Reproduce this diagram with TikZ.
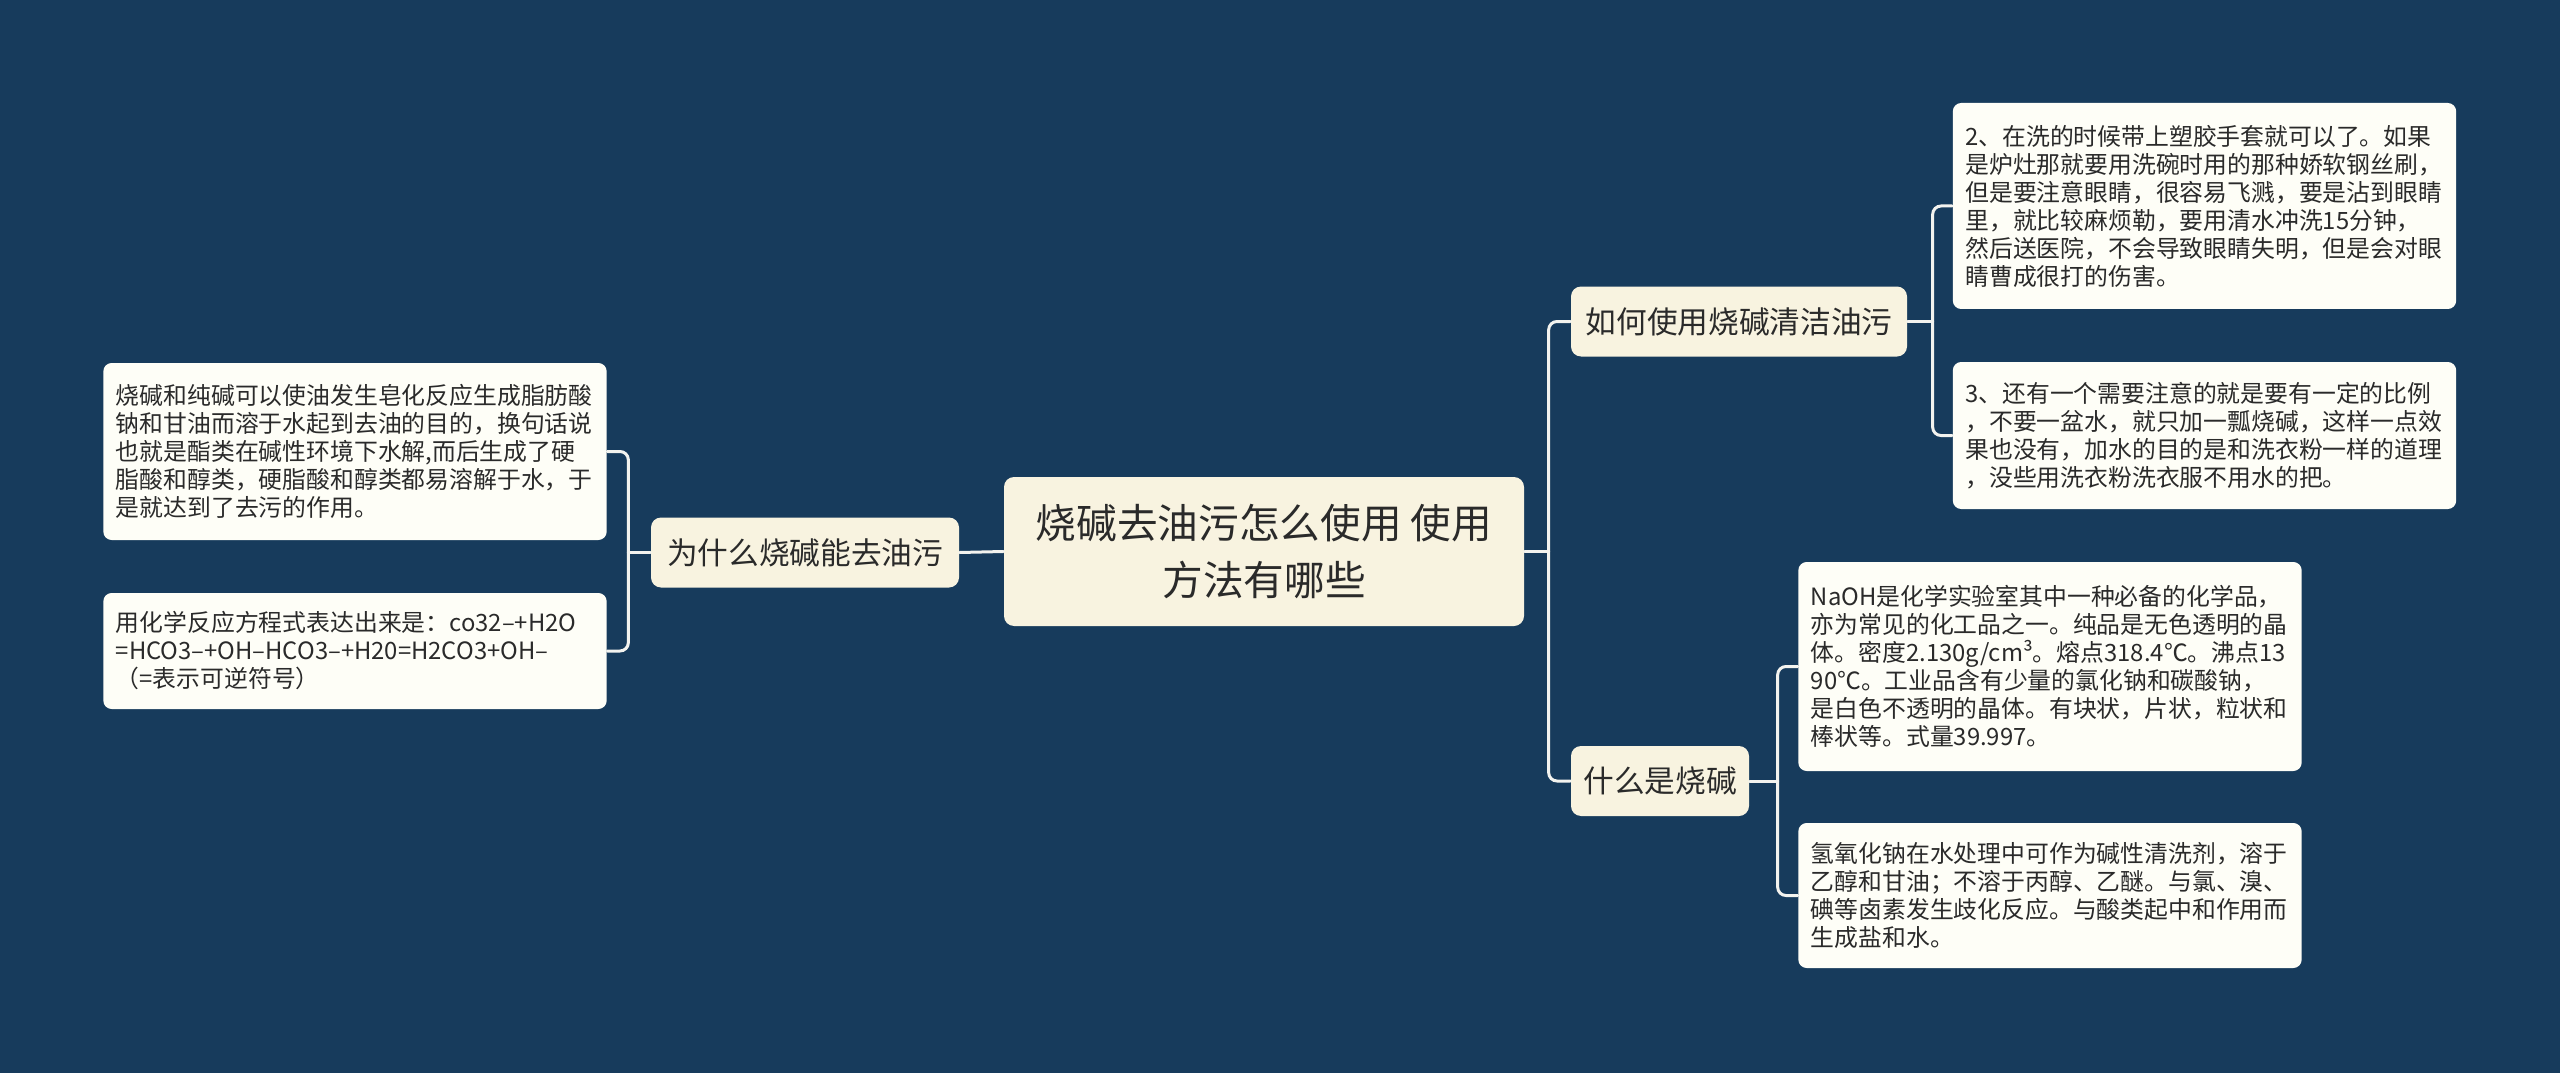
\documentclass[tikz,border=0pt]{standalone}
\usepackage{fontspec}
\newfontfamily\cjk{Noto Sans CJK SC}
\definecolor{bgnavy}{HTML}{173B5C}
\definecolor{topiccream}{HTML}{F8F3E0}
\definecolor{notewhite}{HTML}{FEFEF7}
\definecolor{inkgrey}{HTML}{2A2A2A}
\definecolor{linkwhite}{HTML}{F3F3EF}
\tikzset{
  rootbox/.style={fill=topiccream, rounded corners=3pt, text=inkgrey, align=center, inner sep=0pt,
    font=\cjk\fontsize{12.2}{17}\selectfont},
  topicbox/.style={fill=topiccream, rounded corners=3pt, text=inkgrey, inner sep=0pt,
    minimum height=21pt, font=\cjk\fontsize{9.2}{11}\selectfont},
  notebox/.style={fill=notewhite, rounded corners=2.5pt, text=inkgrey, align=left, inner sep=0pt,
    text width=143.5pt, minimum width=151pt, font=\cjk\fontsize{7.15}{8.4}\selectfont},
  link/.style={draw=linkwhite, line width=0.9pt, line cap=round, rounded corners=2.5pt},
}
\begin{document}
\begin{tikzpicture}[x=0.3pt,y=-0.3pt]
\fill[bgnavy] (0,0) rectangle (2560,1073);
\useasboundingbox (0,0) rectangle (2560,1073);

\node[rootbox, minimum width=156pt, minimum height=44.7pt] (root) at (1264,551.5)
  {烧碱去油污怎么使用 使用\\方法有哪些};

% left side
\node[topicbox, minimum width=92.4pt] (why) at (805,552.5) {为什么烧碱能去油污};
\node[notebox, minimum height=53.1pt] (why1) at (355,451.5)
  {烧碱和纯碱可以使油发生皂化反应生成脂肪酸\\
   钠和甘油而溶于水起到去油的目的，换句话说\\
   也就是酯类在碱性环境下水解,而后生成了硬\\
   脂酸和醇类，硬脂酸和醇类都易溶解于水，于\\
   是就达到了去污的作用。};
\node[notebox, minimum height=34.8pt] (why2) at (355,651)
  {用化学反应方程式表达出来是：co32–+H2O\\
   =HCO3–+OH–HCO3–+H20=H2CO3+OH–\\
   （=表示可逆符号）};

% right side
\node[topicbox, minimum width=100.8pt] (howto) at (1739,321.5) {如何使用烧碱清洁油污};
\node[topicbox, minimum width=53.4pt] (what) at (1660,781) {什么是烧碱};

\node[notebox, minimum height=61.8pt] (howto1) at (2204.5,206)
  {2、在洗的时候带上塑胶手套就可以了。如果\\
   是炉灶那就要用洗碗时用的那种娇软钢丝刷，\\
   但是要注意眼睛，很容易飞溅，要是沾到眼睛\\
   里，就比较麻烦勒，要用清水冲洗15分钟，\\
   然后送医院，不会导致眼睛失明，但是会对眼\\
   睛曹成很打的伤害。};
\node[notebox, minimum height=44.1pt] (howto2) at (2204.5,435.5)
  {3、还有一个需要注意的就是要有一定的比例\\
   ，不要一盆水，就只加一瓢烧碱，这样一点效\\
   果也没有，加水的目的是和洗衣粉一样的道理\\
   ，没些用洗衣粉洗衣服不用水的把。};
\node[notebox, minimum height=62.7pt] (what1) at (2050,666.5)
  {NaOH是化学实验室其中一种必备的化学品，\\
   亦为常见的化工品之一。纯品是无色透明的晶\\
   体。密度2.130g/cm³。熔点318.4℃。沸点13\\
   90℃。工业品含有少量的氯化钠和碳酸钠，\\
   是白色不透明的晶体。有块状，片状，粒状和\\
   棒状等。式量39.997。};
\node[notebox, minimum height=43.5pt] (what2) at (2050,895.5)
  {氢氧化钠在水处理中可作为碱性清洗剂，溶于\\
   乙醇和甘油；不溶于丙醇、乙醚。与氯、溴、\\
   碘等卤素发生歧化反应。与酸类起中和作用而\\
   生成盐和水。};

% spines
\coordinate (rootR) at ([xshift=7.2pt]root.east);
\coordinate (whyL) at ([xshift=-6.6pt]why.west);
\coordinate (howtoR) at ([xshift=7.5pt]howto.east);
\coordinate (whatR) at ([xshift=8.4pt]what.east);

\draw[link] (root.west) -- (why.east);
\draw[link] (root.east) -- (rootR);
\draw[link] (rootR) |- (howto.west);
\draw[link] (rootR) |- (what.west);
\draw[link] (why.west) -- (whyL);
\draw[link] (whyL) |- (why1.east);
\draw[link] (whyL) |- (why2.east);
\draw[link] (howto.east) -- (howtoR);
\draw[link] (howtoR) |- (howto1.west);
\draw[link] (howtoR) |- (howto2.west);
\draw[link] (what.east) -- (whatR);
\draw[link] (whatR) |- (what1.west);
\draw[link] (whatR) |- (what2.west);
\end{tikzpicture}
\end{document}
